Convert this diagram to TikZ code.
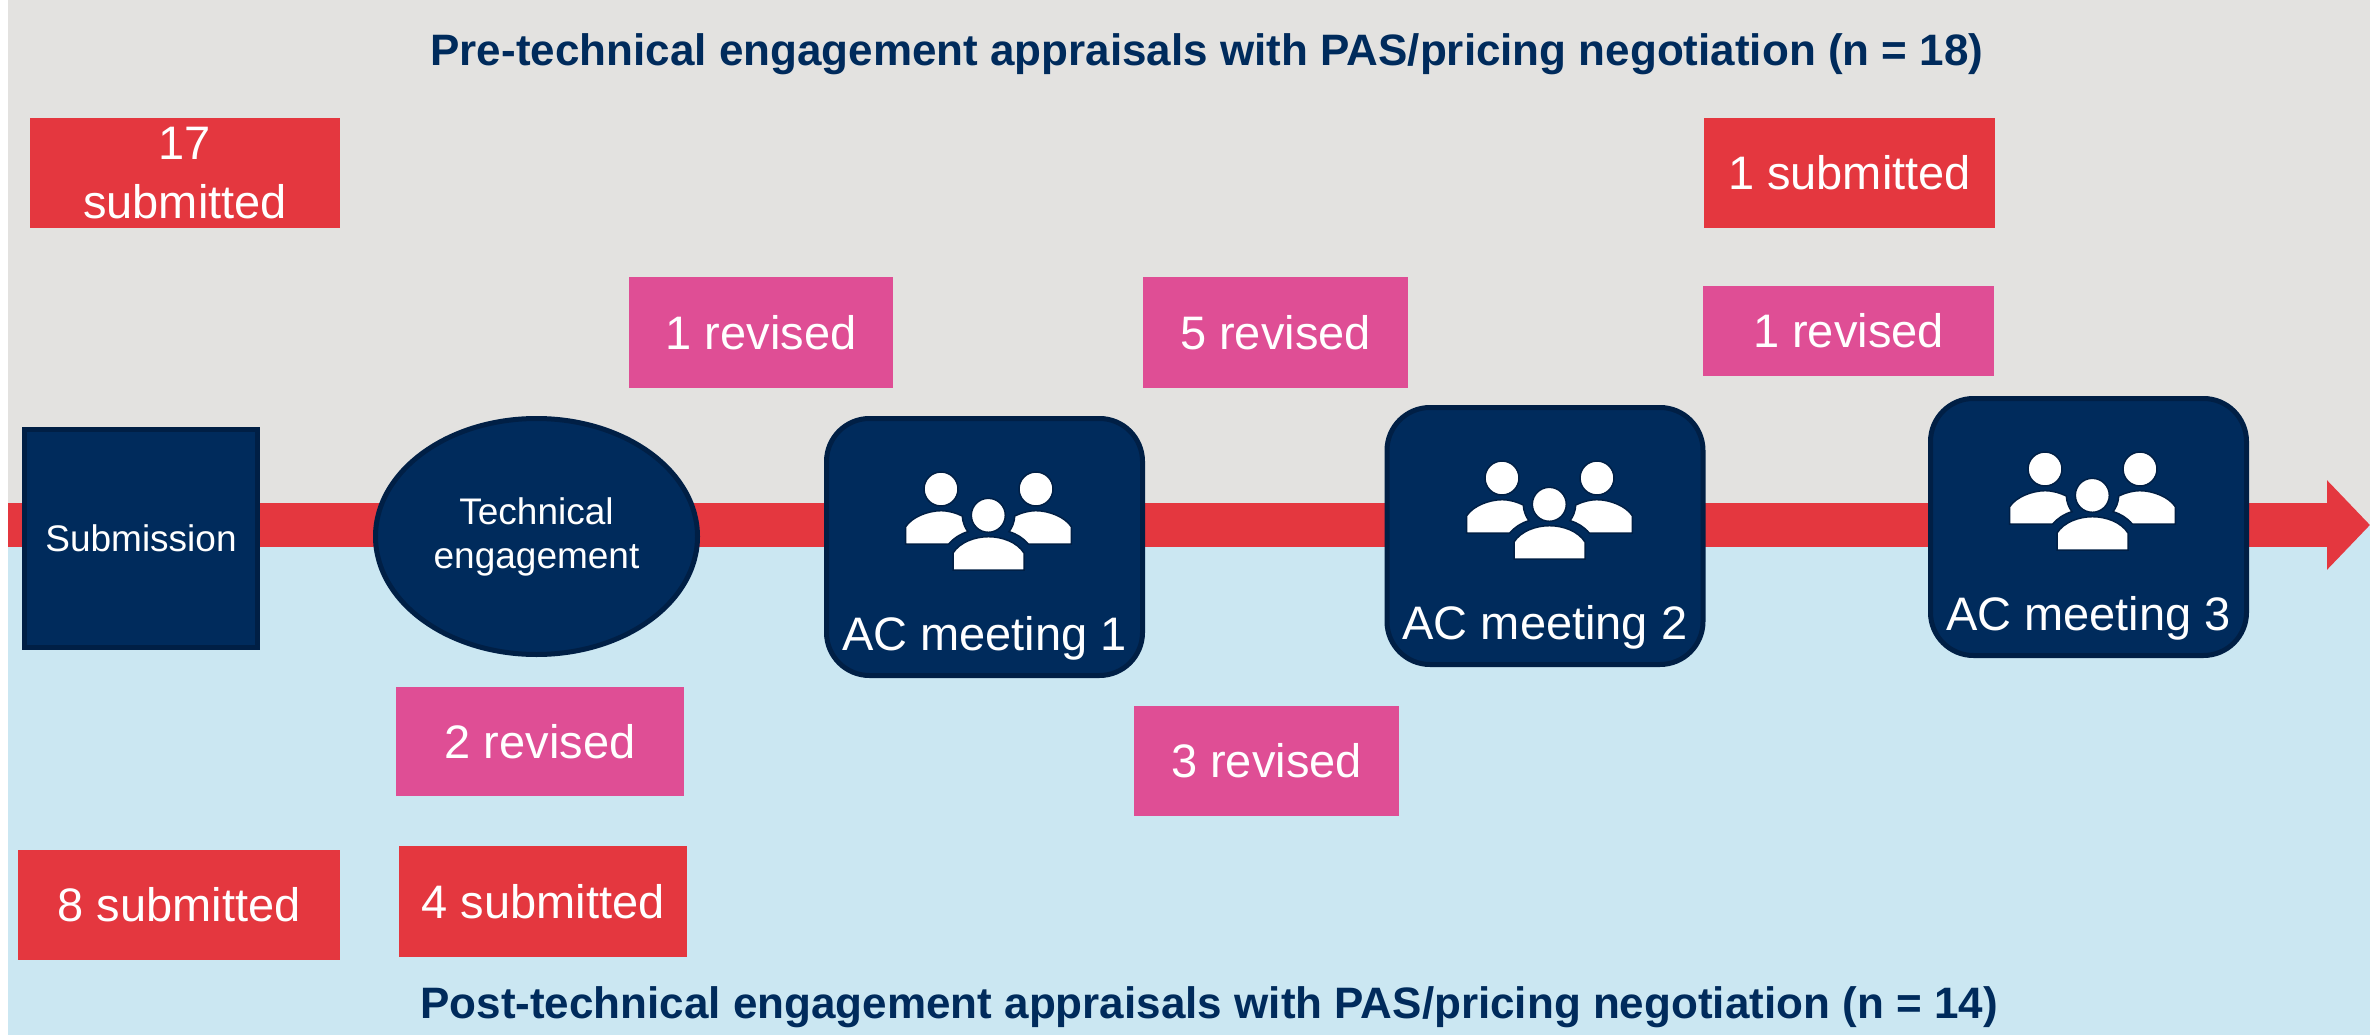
\documentclass[tikz,border=0pt]{standalone}
\usepackage{fontspec}
\setmainfont{Liberation Sans}
\usetikzlibrary{arrows.meta,shapes.geometric}
\definecolor{navy}{HTML}{002B5C}
\definecolor{navyedge}{HTML}{001F45}
\definecolor{tlred}{HTML}{E4373F}
\definecolor{tlpink}{HTML}{DF4E95}
\definecolor{bgtop}{HTML}{E3E2E0}
\definecolor{bgbot}{HTML}{CBE7F2}
\tikzset{
  x=1pt,y=-1pt,
  allnodes/.style={inner sep=0pt,outer sep=0pt,align=center,text=white},
  lab/.style={allnodes,font=\fontsize{47}{59}\selectfont},
  small/.style={allnodes,font=\fontsize{37}{44}\selectfont},
  redbox/.style={lab,fill=tlred},
  pinkbox/.style={lab,fill=tlpink},
  darkshape/.style={draw=navyedge,line width=5pt,fill=navy},
  acbox/.style={darkshape,rounded corners=43pt,minimum width=316pt,minimum height=257pt},
  title/.style={allnodes,text=navy,font=\bfseries\fontsize{44}{50}\selectfont},
  timeline/.style={draw=tlred,line width=44pt,-{Triangle[length=43pt,width=87pt]}},
  person/.style={fill=white,draw=navyedge,line width=1.5pt},
  people/.pic={
    \path[person] (117,73) circle[radius=17pt];
    \path[person] (212,73) circle[radius=17pt];
    \path[person] (164.3,99.3) circle[radius=17pt];
    \path[person] (81.7,128) -- (81.7,110.7) .. controls (88,101) and (104,94.7) .. (117,94.7)
      .. controls (125,94.7) and (132,97) .. (138.3,100) .. controls (138.5,106) and (141,112) .. (144,115.7)
      .. controls (136,118) and (130,122) .. (124.7,128) -- cycle;
    \path[person] (247.3,128) -- (247.3,110.7) .. controls (241,101) and (225,94.7) .. (212,94.7)
      .. controls (204,94.7) and (197,97) .. (190.7,100) .. controls (190.5,106) and (188,112) .. (185,115.7)
      .. controls (193,118) and (199,122) .. (204.3,128) -- cycle;
    \path[person] (129,154) -- (129,137) .. controls (136,126) and (151,120.7) .. (164.5,120.7)
      .. controls (178,120.7) and (193,126) .. (200,137) -- (200,154) -- cycle;
  }
}
\begin{document}
\begin{tikzpicture}
\useasboundingbox (0,0) rectangle (2377,1035);
\fill[bgtop] (8,0) rectangle (2370,525);
\fill[bgbot] (8,525) rectangle (2370,1035);
\coordinate (tlstart) at (8,525);
\coordinate (tlend) at (2370,525);
\draw[timeline] (tlstart) -- (tlend);

\node[title] (titletop) at (1207,54) {Pre-technical engagement appraisals with PAS/pricing negotiation (n = 18)};
\node[title] (titlebot) at (1209,1007) {Post-technical engagement appraisals with PAS/pricing negotiation (n = 14)};

\node[redbox,minimum width=310pt,minimum height=110pt] (s17) at (185,173) {17\\submitted};
\node[redbox,minimum width=291pt,minimum height=110pt] (s1) at (1849.5,173) {1 submitted};
\node[pinkbox,minimum width=264pt,minimum height=111pt] (r1a) at (761,332.5) {1 revised};
\node[pinkbox,minimum width=265pt,minimum height=111pt] (r5) at (1275.5,332.5) {5 revised};
\node[pinkbox,minimum width=291pt,minimum height=90pt] (r1b) at (1848.5,331) {1 revised};
\node[pinkbox,minimum width=288pt,minimum height=109pt] (r2) at (540,741.5) {2 revised};
\node[pinkbox,minimum width=265pt,minimum height=110pt] (r3) at (1266.5,761) {3 revised};
\node[redbox,minimum width=322pt,minimum height=110pt] (s8) at (179,905) {8 submitted};
\node[redbox,minimum width=288pt,minimum height=111pt] (s4) at (543,901.5) {4 submitted};

\node[small,darkshape,minimum width=233pt,minimum height=218pt] (sub) at (141,538.5) {Submission};
\node[small,darkshape,ellipse,minimum width=322pt,minimum height=236pt] (tech) at (536.5,536.5) {Technical\\engagement};

\node[acbox] (ac1) at (984.5,547) {};
\node[acbox] (ac2) at (1545,536) {};
\node[acbox] (ac3) at (2088.5,527) {};
\pic at (824,416) {people};
\pic at (1385,405) {people};
\pic at (1928,396) {people};
\node[lab,anchor=base] (ac1t) at (984.5,650) {AC meeting 1};
\node[lab,anchor=base] (ac2t) at (1545,639) {AC meeting 2};
\node[lab,anchor=base] (ac3t) at (2088.5,630) {AC meeting 3};
\end{tikzpicture}
\end{document}
